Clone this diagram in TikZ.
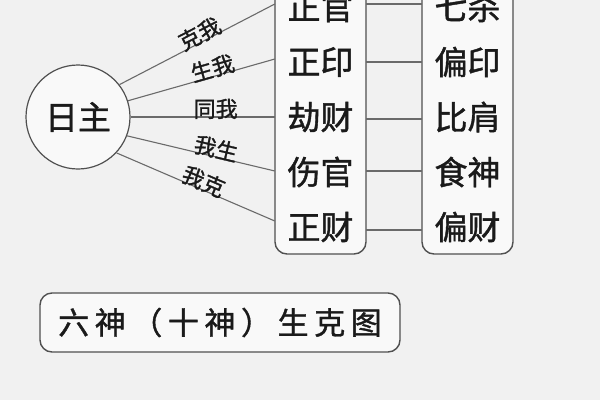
\documentclass[tikz,border=0pt]{standalone}
\usepackage{fontspec}
\setmainfont{Noto Sans CJK SC}[FakeBold=1.2]
\newfontfamily\titlefont{Noto Sans CJK SC}[LetterSpace=18,FakeBold=1.2]
\definecolor{paper}{HTML}{F1F1F1}
\definecolor{ink}{HTML}{1A1A1A}
\definecolor{rule}{HTML}{505050}
\begin{document}
\begin{tikzpicture}[x=1pt,y=-1pt,
  frame/.style={draw=rule,line width=1.4pt,rounded corners=12pt,fill=white!60!paper},
  cell/.style={minimum width=91pt,minimum height=50pt,inner sep=0pt,text=ink,font=\fontsize{33}{33}\selectfont},
  link/.style={draw=rule!85,line width=1.1pt},
  lab/.style={sloped,above=-2.5pt,inner sep=0pt,text=ink,font=\fontsize{22}{22}\selectfont}]
\useasboundingbox (0,0) rectangle (600,400);
\fill[paper] (0,0) rectangle (600,400);
\clip (0,0) rectangle (600,400);
% boxes
\draw[frame] (275,-30) rectangle (366,254);
\draw[frame] (422,-30) rectangle (513,254);
% cells
\foreach \i/\t/\u/\y in {1/正官/七杀/7,2/正印/偏印/62,3/劫财/比肩/117,4/伤官/食神/172,5/正财/偏财/227}{
  \node[cell] (L\i) at (320.5,\y) {\t};
  \node[cell] (R\i) at (467.5,\y) {\u};
}
% circle
\node[draw=rule,line width=1.2pt,circle,minimum size=104pt,inner sep=0pt,fill=white!60!paper,text=ink,font=\fontsize{33}{33}\selectfont] (c) at (78,117) {日主};
% connectors from circle
\draw[link] (c.38) -- node[lab,pos=0.54] {克我} ([yshift=3pt]L1.west);
\draw[link] (c.18) -- node[lab,pos=0.59] {生我} ([yshift=3pt]L2.west);
\draw[link] (c.0) -- node[lab,pos=0.59] {同我} (L3.west);
\draw[link] (c.-21) -- node[lab,pos=0.59] {我生} ([yshift=1pt]L4.west);
\draw[link] (c.-43) -- node[lab,pos=0.53] {我克} ([yshift=6pt]L5.west);
% connectors between boxes
\draw[link] ([yshift=3pt]L1.east) -- ([yshift=3pt]R1.west);
\draw[link] (L2.east) -- (R2.west);
\draw[link] ([yshift=-2pt]L3.east) -- ([yshift=-2pt]R3.west);
\draw[link] ([yshift=1pt]L4.east) -- ([yshift=1pt]R4.west);
\draw[link] ([yshift=-3pt]L5.east) -- ([yshift=-3pt]R5.west);
% title
\node[draw=rule,line width=1.4pt,rounded corners=12pt,fill=white!60!paper,minimum width=360pt,minimum height=59pt,inner sep=0pt,text=ink] (title) at (220,322.5) {\titlefont\fontsize{31}{31}\selectfont 六神（十神）生克图};
\end{tikzpicture}
\end{document}
